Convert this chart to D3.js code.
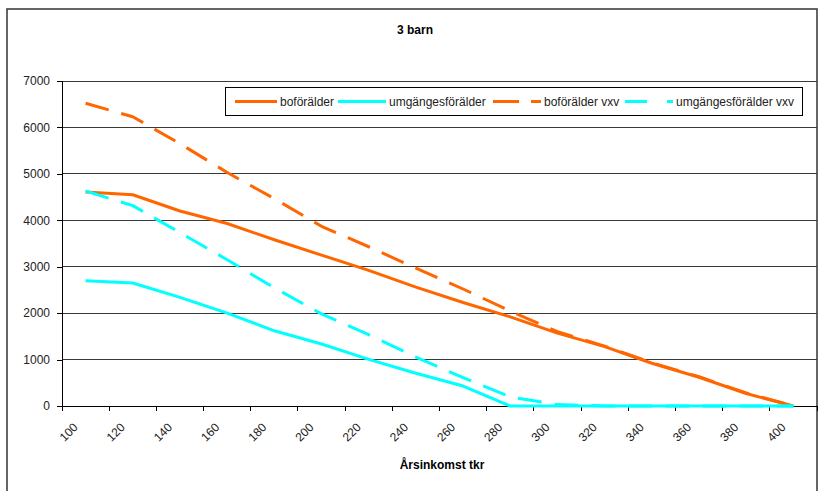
<!DOCTYPE html>
<html>
<head>
<meta charset="utf-8">
<script src="https://cdn.jsdelivr.net/npm/d3@7"></script>
<style>
  html, body { margin: 0; padding: 0; background: #fff; }
  svg { display: block; font-family: "Liberation Sans", Arial, sans-serif; }
</style>
</head>
<body>
<div id="chart"></div>
<script>
// ---- data ----
const title = "3 barn";
const xAxisTitle = "Årsinkomst tkr";
const categories = ["100","120","140","160","180","200","220","240","260","280","300","320","340","360","380","400"];
const yTicks = [0, 1000, 2000, 3000, 4000, 5000, 6000, 7000];
const seriesNames = ["boförälder", "umgängesförälder", "boförälder vxv", "umgängesförälder vxv"];
const boforalder          = [4610, 4550, 4200, 3930, 3580, 3250, 2920, 2560, 2230, 1920, 1570, 1280, 920, 620, 270, 0];
const umgangesforalder    = [2700, 2650, 2340, 2000, 1620, 1335, 1005, 705, 430, 0, 0, 0, 0, 0, 0, 0];
const boforalderVxv       = [6520, 6230, 5650, 5030, 4465, 3870, 3430, 2970, 2520, 2045, 1600, 1290, 930, 630, 280, 0];
const umgangesforalderVxv = [4630, 4315, 3735, 3150, 2545, 1985, 1535, 1055, 610, 195, 30, 0, 0, 0, 0, 0];

// ---- styles (separate from data) ----
const seriesStyle = [
  { color: "#FF6600", dash: null,    legendDash: null },
  { color: "#00FFFF", dash: null,    legendDash: null },
  { color: "#FF6600", dash: "24,13", legendDash: "26,12" },
  { color: "#00FFFF", dash: "24,13", legendDash: "22,20" }
];
const seriesValues = [boforalder, umgangesforalder, boforalderVxv, umgangesforalderVxv];

const W = 820, H = 491;
const plot = { left: 62, right: 817, top: 81, bottom: 406 };

const svg = d3.select("#chart").append("svg").attr("width", W).attr("height", H);

// chart frame
svg.append("rect").attr("x", 7).attr("y", 9).attr("width", 810).attr("height", 520)
  .attr("fill", "#fff").attr("stroke", "#333").attr("stroke-width", 1.5);

const x = d3.scaleBand().domain(categories).range([plot.left, plot.right]).paddingInner(0).paddingOuter(0);
const y = d3.scaleLinear().domain([0, 7000]).range([plot.bottom, plot.top]);

// gridlines
svg.append("g").selectAll("line").data(yTicks.filter(d => d > 0)).join("line")
  .attr("x1", plot.left).attr("x2", plot.right)
  .attr("y1", d => y(d)).attr("y2", d => y(d))
  .attr("stroke", "#3a3a3a").attr("stroke-width", 1).attr("shape-rendering", "crispEdges");

// y axis
const yAxis = svg.append("g").attr("transform", `translate(${plot.left},0)`)
  .call(d3.axisLeft(y).tickValues(yTicks).tickSize(5).tickPadding(7).tickFormat(d3.format("d")));
yAxis.select(".domain").attr("stroke", "#000").attr("shape-rendering", "crispEdges");
yAxis.selectAll(".tick line").attr("stroke", "#000").attr("shape-rendering", "crispEdges");
yAxis.selectAll("text").attr("font-size", 12).attr("fill", "#222")
  .attr("font-family", "Liberation Sans, Arial, sans-serif");

// x axis: ticks at category boundaries
const xg = svg.append("g");
xg.append("line").attr("x1", plot.left).attr("x2", plot.right)
  .attr("y1", plot.bottom).attr("y2", plot.bottom).attr("stroke", "#000").attr("shape-rendering", "crispEdges");
const boundaries = categories.map(c => x(c)).concat([x(categories[categories.length - 1]) + x.bandwidth()]);
xg.selectAll("line.tk").data(boundaries).join("line").attr("class", "tk")
  .attr("x1", d => d).attr("x2", d => d).attr("y1", plot.bottom).attr("y2", plot.bottom + 5)
  .attr("stroke", "#000").attr("shape-rendering", "crispEdges");
xg.selectAll("text").data(categories).join("text")
  .attr("transform", d => `translate(${x(d) + x.bandwidth() / 2 - 7},${plot.bottom + 22}) rotate(-45)`)
  .attr("text-anchor", "end").attr("font-size", 12).attr("fill", "#222").text(d => d);

// lines
const line = d3.line().x((d, i) => x(categories[i]) + x.bandwidth() / 2).y(d => y(d));
seriesValues.forEach((vals, i) => {
  const st = seriesStyle[i];
  svg.append("path").datum(vals).attr("d", line)
    .attr("fill", "none").attr("stroke", st.color).attr("stroke-width", 3)
    .attr("stroke-linejoin", "round")
    .attr("stroke-dasharray", st.dash);
});

// title
svg.append("text").attr("x", 415).attr("y", 34).attr("text-anchor", "middle")
  .attr("font-size", 12).attr("font-weight", "bold").attr("fill", "#000").text(title);
// x axis title
svg.append("text").attr("x", 442).attr("y", 469).attr("text-anchor", "middle")
  .attr("font-size", 12).attr("font-weight", "bold").attr("fill", "#000").text(xAxisTitle);

// legend
const lg = svg.append("g");
lg.append("rect").attr("x", 225.5).attr("y", 87.5).attr("width", 577).attr("height", 28)
  .attr("fill", "#fff").attr("stroke", "#000").attr("stroke-width", 1);
const legendX = [235, 338, 493, 625];
const legendLen = [42, 48, 48, 48];
seriesNames.forEach((name, i) => {
  const st = seriesStyle[i];
  lg.append("line").attr("x1", legendX[i]).attr("x2", legendX[i] + legendLen[i])
    .attr("y1", 101.5).attr("y2", 101.5)
    .attr("stroke", st.color).attr("stroke-width", 3).attr("stroke-dasharray", st.legendDash);
  lg.append("text").attr("x", legendX[i] + legendLen[i] + 3).attr("y", 106)
    .attr("font-size", 12).attr("fill", "#222").text(name);
});
</script>
</body>
</html>
